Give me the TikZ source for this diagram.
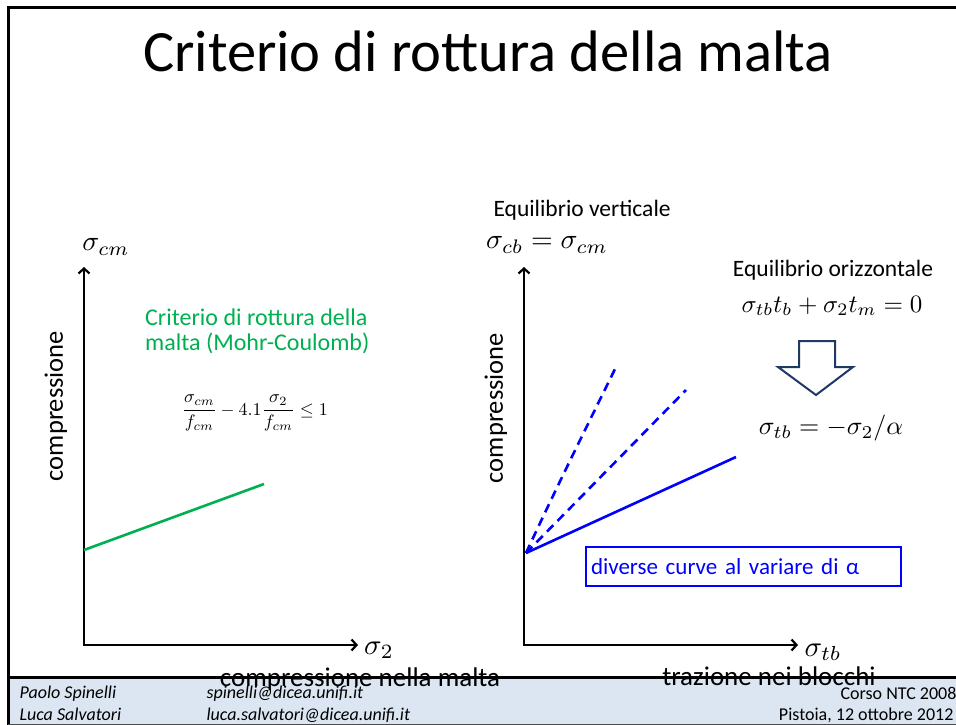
\documentclass[tikz,border=0pt]{standalone}
\usepackage{amsmath}
\usepackage{fontspec}
\setmainfont{Carlito}
\usetikzlibrary{arrows.meta}
\definecolor{fgreen}{HTML}{00B050}
\definecolor{fblue}{HTML}{0000FF}
\definecolor{navy}{HTML}{1F3864}
\definecolor{footbg}{HTML}{DCE6F2}
\tikzset{
  axis/.style={line width=2.2pt, {Straight Barb[length=5pt,width=11pt]}-{Straight Barb[length=5pt,width=11pt]}},
  fs/.style={font=\fontsize{#1}{#1}\selectfont},
  mth/.style={font=\fontsize{10}{12}\selectfont, scale=#1, transform shape},
  curve/.style={fblue, line width=2.6pt},
  dcurve/.style={curve, dash pattern=on 9pt off 6pt},
  foot/.style={font=\fontsize{18}{18}\selectfont\itshape, anchor=base west},
}
\begin{document}
\begin{tikzpicture}[x=1pt,y=-1pt]
\useasboundingbox (0,0) rectangle (956,725);
\fill[white] (0,0) rectangle (956,725);
% footer band
\fill[footbg] (8,677) rectangle (956,725);
\draw[line width=3pt] (8,725) -- (8,8) -- (956,8);
\draw[line width=3pt] (8,677) -- (956,677);
\draw[line width=0.8pt, black!70] (8,724.5) -- (956,724.5);

% title
\node[fs=58.5, anchor=base] (title) at (488,72) {Criterio di rottura della malta};

% ---- left diagram
\coordinate (o1) at (84,645);
\coordinate (y1) at (84,267);
\coordinate (x1) at (358,645);
\draw[axis] (y1) -- (o1) -- (x1);
\node[mth=2.8] (s1) at (106,247) {$\sigma_{cm}$};
\node[mth=2.9] (s2) at (379,650) {$\sigma_2$};
\node[fs=26.5, rotate=90] (c1) at (56,406) {compressione};
\node[fs=24, fgreen, anchor=north west, align=left, inner sep=0pt] (g1) at (145,309)
  {Criterio di rottura della\\[1pt]malta (Mohr-Coulomb)};
\node[mth=1.8] (f1) at (255,413) {$\dfrac{\sigma_{cm}}{f_{cm}} - 4.1\dfrac{\sigma_2}{f_{cm}} \le 1$};
\coordinate (ga) at (84,550);
\coordinate (gb) at (264,484);
\draw[fgreen, line width=2.6pt] (ga) -- (gb);
\node[fs=27, anchor=base] (b1) at (360,686) {compressione nella malta};

% ---- right diagram
\coordinate (o2) at (524,645);
\coordinate (y2) at (524,267);
\coordinate (x2) at (798,645);
\draw[axis] (y2) -- (o2) -- (x2);
\node[mth=2.9] (s3) at (823,652) {$\sigma_{tb}$};
\node[fs=26.5, rotate=90] (c2) at (496,408) {compressione};
\node[fs=23.5, anchor=base west] (ev) at (490,216) {Equilibrio verticale};
\node[mth=2.8] (s4) at (547,245) {$\sigma_{cb} = \sigma_{cm}$};
\node[fs=23.5] (eo) at (833,270) {Equilibrio orizzontale};
\node[mth=2.5] (f2) at (832,306) {$\sigma_{tb}t_b + \sigma_2 t_m = 0$};
\draw[navy, line width=2pt, line join=miter] (799,341) -- (835,341) -- (835,367) -- (853,367) -- (816,395) -- (778,367) -- (799,367) -- cycle;
\node[mth=2.6] (f3) at (831,428) {$\sigma_{tb} = -\sigma_2 / \alpha$};

\coordinate (p0) at (526,553);
\coordinate (p1) at (736,457);
\coordinate (p2) at (686,390);
\coordinate (p3) at (616,367);
\draw[curve] (p0) -- (p1);
\draw[dcurve] (p0) -- (p2);
\draw[dcurve] (p0) .. controls (560,480) and (590,420) .. (p3);

\node[draw=fblue, line width=1.2pt, fblue, fs=23, minimum width=315pt, minimum height=39pt, text width=305pt, align=left] (box) at (743.5,566.5) {diverse curve al variare di α};
\node[fs=27, anchor=base] (b2) at (769,685) {trazione nei blocchi};

% footer
\node[foot] (n1) at (16,698) {Paolo Spinelli};
\node[foot] (n2) at (16,720) {Luca Salvatori};
\node[foot] (e1) at (203,698) {spinelli@dicea.unifi.it};
\node[foot] (e2) at (203,720) {luca.salvatori@dicea.unifi.it};
\node[fs=18, anchor=base east] (r1) at (960,699) {Corso NTC 2008};
\node[fs=18, anchor=base east] (r2) at (957,720) {Pistoia, 12 ottobre 2012};
\end{tikzpicture}
\end{document}
